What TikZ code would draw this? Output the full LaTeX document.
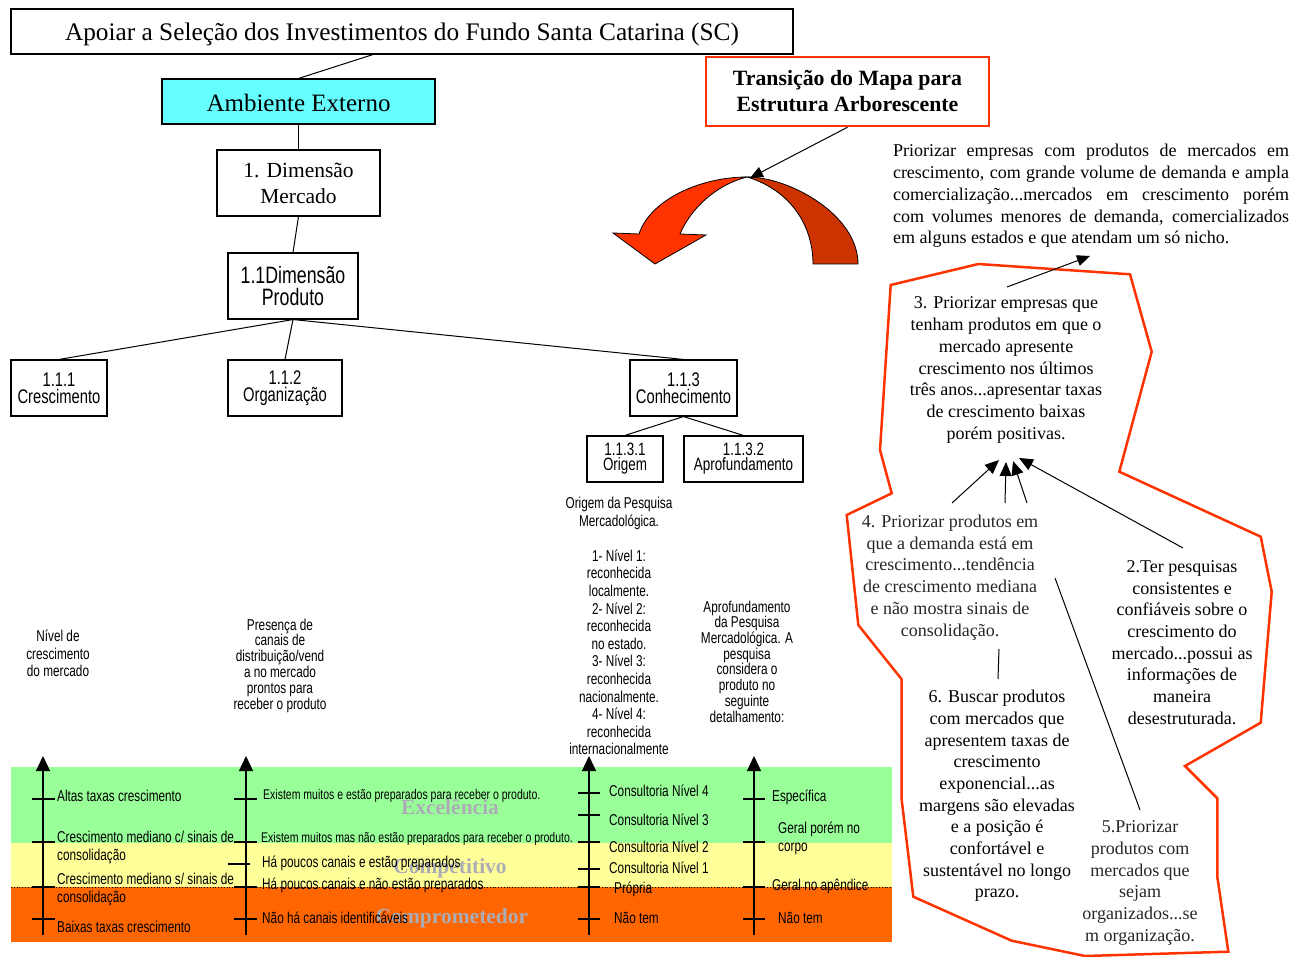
\documentclass[tikz,border=0pt]{standalone}
\usepackage{fontspec}
\setmainfont{Liberation Serif}
\newfontfamily\nsans[FakeStretch=0.75]{Liberation Sans}
\usetikzlibrary{arrows.meta}
\newcommand\setfs[2]{\fontsize{#1}{#2}\selectfont}
\definecolor{cyanbox}{RGB}{102,255,255}
\definecolor{linered}{RGB}{255,51,0}
\definecolor{arrowlight}{RGB}{255,51,0}
\definecolor{arrowdark}{RGB}{204,51,0}
\definecolor{bandgreen}{RGB}{153,255,153}
\definecolor{bandyellow}{RGB}{255,255,153}
\definecolor{bandorange}{RGB}{255,102,0}
\definecolor{wmgray}{RGB}{172,172,182}
\begin{document}
\begin{tikzpicture}[x=1pt,y=-1pt,
  frame/.style={draw=black, line width=1.1pt, fill=white, inner sep=0pt, align=center},
  treeline/.style={line width=1pt},
  sanslbl/.style={inner sep=0pt, align=center},
  axislbl/.style={font=\nsans\setfs{15.7}{18}, inner sep=0pt, anchor=west, align=left},
  axisline/.style={line width=1.4pt, -{Triangle[length=15pt,width=14pt]}},
  tickline/.style={line width=1.1pt},
  cloudtxt/.style={font=\setfs{18}{21.7}, inner sep=0pt, align=center},
  redstroke/.style={draw=linered, line width=2.5pt, line join=miter},
  pointer/.style={line width=1pt, -{Triangle[length=13pt,width=11pt]}},
  conv/.style={line width=1pt, -{Triangle[length=14pt,width=12pt]}},
  wmark/.style={font=\bfseries\setfs{21.5}{22}, text=wmgray, inner sep=0pt}
]
\useasboundingbox (0,0) rectangle (1306,957);

% ---------------- hierarchy ----------------
\node[frame, minimum width=782pt, minimum height=45pt, text height=19.5pt, text depth=1.5pt,
  font=\setfs{25.3}{26}] (title) at (402,31.5)
  {Apoiar a Seleção dos Investimentos do Fundo Santa Catarina (SC)};
\node[frame, fill=cyanbox, minimum width=273pt, minimum height=45pt, text height=19.5pt, text depth=0pt,
  font=\setfs{25}{26}] (amb) at (298.5,101.5)
  {Ambiente Externo};
\node[frame, minimum width=163pt, minimum height=66pt, font=\setfs{21.5}{26}] (dim) at (298.5,183)
  {1. Dimensão\\Mercado};
\node[frame, minimum width=130pt, minimum height=66pt, font=\nsans\setfs{23.7}{22}] (prod) at (293,286)
  {1.1Dimensão\\Produto};
\node[frame, minimum width=96pt, minimum height=56pt, font=\nsans\setfs{19.7}{17}] (c111) at (59,388)
  {1.1.1\\Crescimento};
\node[frame, minimum width=114pt, minimum height=56pt, font=\nsans\setfs{19.7}{17}] (c112) at (285,388)
  {1.1.2\\Organização};
\node[frame, minimum width=107pt, minimum height=56pt, font=\nsans\setfs{19.7}{17}] (c113) at (683.5,388)
  {1.1.3\\Conhecimento};
\node[frame, minimum width=76pt, minimum height=46pt, font=\nsans\setfs{17.9}{15}] (c1131) at (625,459)
  {1.1.3.1\\Origem};
\node[frame, minimum width=119pt, minimum height=46pt, font=\nsans\setfs{17.9}{15}] (c1132) at (743.5,459)
  {1.1.3.2\\Aprofundamento};

\draw[treeline] ([xshift=-29pt]title.south) -- (amb.north);
\draw[treeline] (amb.south) -- (dim.north);
\draw[treeline] (dim.south) -- (prod.north);
\draw[treeline] (prod.south) -- (c111.north);
\draw[treeline] (prod.south) -- (c112.north);
\draw[treeline] (prod.south) -- (c113.north);
\draw[treeline] (c113.south) -- (c1131.north);
\draw[treeline] (c113.south) -- (c1132.north);

% ---------------- criterion descriptions ----------------
\node[sanslbl, font=\nsans\setfs{15.7}{17.6}] (txorig) at (619,626)
  {Origem da Pesquisa\\Mercadológica.\\[17.6pt]1- Nível 1:\\reconhecida\\localmente.\\2- Nível 2:\\reconhecida\\no estado.\\3- Nível 3:\\reconhecida\\nacionalmente.\\4- Nível 4:\\reconhecida\\internacionalmente};
\node[sanslbl, font=\nsans\setfs{15.7}{15.7}] (txapro) at (747,661.5)
  {Aprofundamento\\da Pesquisa\\Mercadológica. A\\pesquisa\\considera o\\produto no\\seguinte\\detalhamento:};
\node[sanslbl, font=\nsans\setfs{15.7}{17.5}] (txniv) at (58,653.5)
  {Nível de\\crescimento\\do mercado};
\node[sanslbl, font=\nsans\setfs{15.7}{15.8}] (txpres) at (280,665.5)
  {Presença de\\canais de\\distribuição/vend\\a no mercado\\prontos para\\receber o produto};

% ---------------- performance bands ----------------
\fill[bandgreen] (11,767) rectangle (892,843);
\fill[bandyellow] (11,843) rectangle (892,887);
\fill[bandorange] (11,887) rectangle (892,942);
\draw[dotted, line width=0.8pt] (11,887) -- (892,887);

\node[wmark] (wm1) at (450,807.5) {Excelência};
\node[wmark] (wm2) at (450,868) {Competitivo};
\node[wmark] (wm3) at (452,918) {Comprometedor};

% scale 1: market growth
\coordinate (a1b) at (43,935); \coordinate (a1t) at (43,756);
\draw[axisline] (a1b) -- (a1t);
\foreach \y in {799,842,887,919} \draw[tickline] (32,\y) -- (55,\y);
\node[axislbl] (l11) at (57,796) {Altas taxas crescimento};
\node[axislbl] (l12) at (57,847) {Crescimento mediano c/ sinais de\\consolidação};
\node[axislbl] (l13) at (57,889.5) {Crescimento mediano s/ sinais de\\consolidação};
\node[axislbl] (l14) at (57,927) {Baixas taxas crescimento};

% scale 2: distribution channels
\coordinate (a2b) at (246,935); \coordinate (a2t) at (246,756);
\draw[axisline] (a2b) -- (a2t);
\foreach \y in {799,842,887,919} \draw[tickline] (234,\y) -- (257,\y);
\draw[tickline] (228,864) -- (250,864);
\node[axislbl, font=\nsans\setfs{14}{15}] (l21) at (263,796) {Existem muitos e estão preparados para receber o produto.};
\node[axislbl, font=\nsans\setfs{14}{15}] (l22) at (261,839) {Existem muitos mas não estão preparados para receber o produto.};
\node[axislbl] (l23) at (262,863) {Há poucos canais e estão preparados};
\node[axislbl] (l24) at (262,885) {Há poucos canais e não estão preparados};
\node[axislbl] (l25) at (262,918) {Não há canais identificáveis};

% scale 3: research origin
\coordinate (a3b) at (589,935); \coordinate (a3t) at (589,756);
\draw[axisline] (a3b) -- (a3t);
\foreach \y in {793,815,842,869,887,919} \draw[tickline] (578,\y) -- (600,\y);
\node[axislbl] (l31) at (609,791) {Consultoria Nível 4};
\node[axislbl] (l32) at (609,820) {Consultoria Nível 3};
\node[axislbl] (l33) at (609,847) {Consultoria Nível 2};
\node[axislbl] (l34) at (609,868) {Consultoria Nível 1};
\node[axislbl] (l35) at (614,889) {Própria};
\node[axislbl] (l36) at (614,918) {Não tem};

% scale 4: research depth
\coordinate (a4b) at (754,935); \coordinate (a4t) at (754,756);
\draw[axisline] (a4b) -- (a4t);
\foreach \y in {799,842,887,919} \draw[tickline] (743,\y) -- (765,\y);
\node[axislbl] (l41) at (772,797) {Específica};
\node[axislbl] (l42) at (778,838.5) {Geral porém no\\corpo};
\node[axislbl] (l43) at (772,886) {Geral no apêndice};
\node[axislbl] (l44) at (778,918) {Não tem};

% ---------------- transition ----------------
\node[draw=linered, line width=2.5pt, fill=white, minimum width=283pt, minimum height=69pt, inner sep=0pt,
  align=center, font=\bfseries\setfs{21.8}{26}] (trans) at (847.5,91.5)
  {Transição do Mapa para\\Estrutura Arborescente};

% curved transition arrow
\coordinate (ctop) at (747,177);
\filldraw[fill=arrowdark, draw=black, line width=0.8pt]
  (ctop) .. controls (790,177) and (858,215) .. (858,264) -- (813,264)
  .. controls (813,225) and (790,190) .. (ctop) -- cycle;
\filldraw[fill=arrowlight, draw=black, line width=0.8pt, line join=miter]
  (ctop) .. controls (700,177) and (650,200) .. (639,234) -- (613,233) -- (655,264)
  -- (706,235) -- (680,234) .. controls (690,210) and (715,185) .. (ctop) -- cycle;
\coordinate (ctip) at (750,178);
\draw[pointer] (trans.south) -- (ctip);

\node[inner sep=0pt, align=left, font=\setfs{18}{21.8}] (para) at (1091,196)
  {\makebox[396pt][s]{Priorizar empresas com produtos de mercados em}\\
   \makebox[396pt][s]{crescimento, com grande volume de demanda e ampla}\\
   \makebox[396pt][s]{comercialização...mercados em crescimento porém}\\
   \makebox[396pt][s]{com volumes menores de demanda, comercializados}\\
   em alguns estados e que atendam um só nicho.};

% ---------------- red outline of the tree ----------------
\draw[redstroke] (890.7,285) -- (978.3,264) -- (1130,274.3) -- (1151.7,351.7) -- (1119.3,471.7)
  -- (1260.7,536.7) -- (1271.7,591.7) -- (1260.7,722.7) -- (1185,766) -- (1217.3,798.3)
  -- (1217.3,876.7) -- (1228.3,951.7) -- (1085,956) -- (1011.7,940.7) -- (913.3,896.7)
  -- (901.7,800) -- (901.7,679.3) -- (858.3,625) -- (846.7,515) -- (891.7,493.3)
  -- (880,450) -- cycle;

\node[cloudtxt] (n3) at (1006,370)
  {3. Priorizar empresas que\\tenham produtos em que o\\mercado apresente\\crescimento nos últimos\\três anos...apresentar taxas\\de crescimento baixas\\porém positivas.};
\node[cloudtxt, text=black!85] (n4) at (950,577.5)
  {4. Priorizar produtos em\\que a demanda está em\\crescimento...tendência\\de crescimento mediana\\e não mostra sinais de\\consolidação.};
\node[cloudtxt] (n2) at (1182,642.5)
  {2.Ter pesquisas\\consistentes e\\confiáveis sobre o\\crescimento do\\mercado...possui as\\informações de\\maneira\\desestruturada.};
\node[cloudtxt] (n6) at (997,796)
  {6. Buscar produtos\\com mercados que\\apresentem taxas de\\crescimento\\exponencial...as\\margens são elevadas\\e a posição é\\confortável e\\sustentável no longo\\prazo.};
\node[cloudtxt, text=black!85] (n5) at (1140,883)
  {5.Priorizar\\produtos com\\mercados que\\sejam\\organizados...se\\m organização.};

% links between the objectives
\coordinate (s3) at (1007,287); \coordinate (t3) at (1090,256);
\draw[pointer] (s3) -- (t3);
\coordinate (f4a) at (952,503); \coordinate (h4a) at (999,460);
\coordinate (f4b) at (1005,503); \coordinate (h4b) at (1006,462);
\coordinate (f4c) at (1027,503); \coordinate (h4c) at (1013,461);
\coordinate (f2) at (1183,548); \coordinate (h2) at (1019,458);
\draw[conv] (f4a) -- (h4a);
\draw[conv] (f4b) -- (h4b);
\draw[conv] (f4c) -- (h4c);
\draw[conv] (f2) -- (h2);
\coordinate (f6) at (998,679); \coordinate (h6) at (999,649);
\draw[line width=1pt] (f6) -- (h6);
\coordinate (f5) at (1140,810); \coordinate (h5) at (1055,578);
\draw[line width=1pt] (f5) -- (h5);
\end{tikzpicture}
\end{document}
